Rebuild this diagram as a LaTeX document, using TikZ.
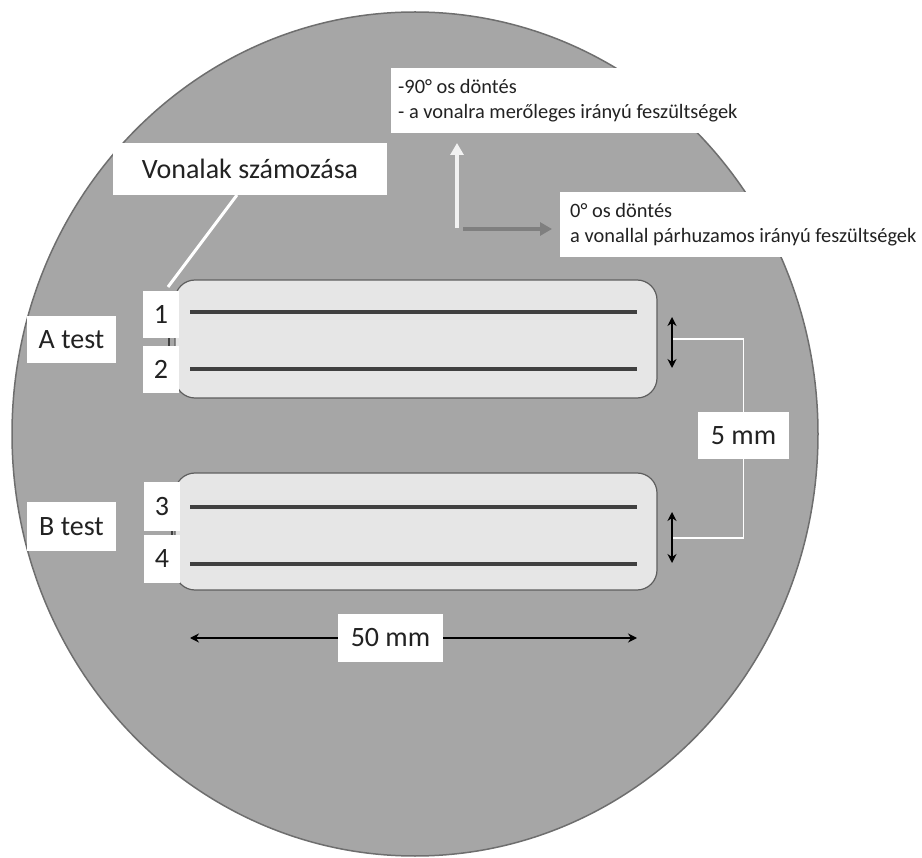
\documentclass[tikz,border=0pt]{standalone}
\usepackage{fontspec}
\setmainfont{Carlito}
\usetikzlibrary{arrows.meta}
\definecolor{disk}{HTML}{A6A6A6}
\definecolor{diskedge}{HTML}{6E6E6E}
\definecolor{strip}{HTML}{E6E6E6}
\definecolor{stripedge}{HTML}{5E5E5E}
\definecolor{lineclr}{HTML}{404040}
\definecolor{txt}{HTML}{222222}
\definecolor{uparrow}{HTML}{F2F2F2}
\definecolor{rtarrow}{HTML}{7F7F7F}
\tikzset{
  lbl/.style={fill=white, inner sep=0pt, text=txt, font=\fontsize{28}{33}\selectfont},
  note/.style={fill=white, inner sep=0pt, text=txt, align=flush left, anchor=north west,
     font=\fontsize{20.4}{24.5}\selectfont},
  stripbox/.style={fill=strip, draw=stripedge, line width=1.2pt, rounded corners=20pt},
  testline/.style={draw=lineclr, line width=3.2pt},
  dimarrow/.style={draw=black, line width=2.6pt, {Stealth[length=9pt,width=9pt]}-{Stealth[length=9pt,width=9pt]}},
  dimarrowR/.style={draw=black, line width=2.6pt, -{Stealth[length=9pt,width=9pt]}},
  dimarrowL/.style={draw=black, line width=2.6pt, {Stealth[length=9pt,width=9pt]}-},
  leader/.style={draw=white, line width=1.6pt},
}
\begin{document}
\begin{tikzpicture}[x=1pt,y=-1pt]
\useasboundingbox (0,0) rectangle (922,858);
% disk
\fill[disk, draw=diskedge, line width=1.5pt] (415,434) ellipse [x radius=403, y radius=422];

% strips
\draw[stripbox] (175,280) rectangle (657,398);
\draw[stripbox] (175,473) rectangle (657,590);

% test lines
\coordinate (l1a) at (190,312); \coordinate (l1b) at (637,312);
\coordinate (l2a) at (190,369); \coordinate (l2b) at (637,369);
\coordinate (l3a) at (190,507); \coordinate (l3b) at (637,507);
\coordinate (l4a) at (190,564); \coordinate (l4b) at (637,564);
\draw[testline] (l1a) -- (l1b);
\draw[testline] (l2a) -- (l2b);
\draw[testline] (l3a) -- (l3b);
\draw[testline] (l4a) -- (l4b);

% small ticks between number boxes
\coordinate (t1a) at (169,336); \coordinate (t1b) at (169,348);
\draw[draw=lineclr, line width=1.6pt] (t1a) -- (t1b);
\coordinate (t2a) at (172,529); \coordinate (t2b) at (172,537);
\draw[draw=lineclr, line width=1.6pt] (t2a) -- (t2b);

% number boxes
\node[lbl, minimum width=36pt, minimum height=47pt] (n1) at (161,314.5) {1};
\node[lbl, minimum width=36pt, minimum height=47pt] (n2) at (161,369.5) {2};
\node[lbl, minimum width=36pt, minimum height=49pt] (n3) at (162,506.5) {3};
\node[lbl, minimum width=36pt, minimum height=48pt] (n4) at (162,559) {4};

% test labels
\node[lbl, minimum width=89pt, minimum height=47pt] (ta) at (71.5,339.5) {A test};
\node[lbl, minimum width=89pt, minimum height=49pt] (tb) at (71.5,526.5) {B test};

% numbering label and leader
\node[lbl, minimum width=274pt, minimum height=52pt] (vs) at (250,169) {Vonalak számozása};
\coordinate (vsf) at (237,195);
\coordinate (n1c) at (168,287);
\draw[draw=white, line width=3pt] (vsf) -- (n1c);

% orientation notes
\node[note, minimum width=361pt, minimum height=65pt, inner xsep=7pt, text width=347pt] (n90) at (391,68)
  {-90° os döntés\\- a vonalra merőleges irányú feszültségek};
\node[note, minimum width=362pt, minimum height=65pt, inner xsep=10pt, text width=352pt] (n0) at (560,192)
  {0° os döntés\\a vonallal párhuzamos irányú feszültségek};

% orientation arrows
\coordinate (ua) at (457,228); \coordinate (ub) at (457,143);
\draw[draw=uparrow, line width=4pt, -{Triangle[length=12pt,width=13pt]}] (ua) -- (ub);
\coordinate (ra) at (463,229); \coordinate (rb) at (552,229);
\draw[draw=rtarrow, line width=4pt, -{Triangle[length=12pt,width=13pt]}] (ra) -- (rb);

% 5 mm dimension
\coordinate (d1a) at (672,317); \coordinate (d1b) at (672,368);
\coordinate (d2a) at (672,512); \coordinate (d2b) at (672,563);
\node[lbl, minimum width=91pt, minimum height=47pt] (mm5) at (743.5,435.5) {5 mm};
\coordinate (c1) at (672,339);
\coordinate (c2) at (672,538);
\draw[leader] (c1) -| (mm5.north);
\draw[leader] (mm5.south) |- (c2);
\draw[dimarrow] (d1a) -- (d1b);
\draw[dimarrow] (d2a) -- (d2b);

% 50 mm dimension
\node[lbl, minimum width=105pt, minimum height=48pt] (mm50) at (390.5,638) {50 mm};
\coordinate (w1) at (190,638);
\coordinate (w2) at (637,638);
\draw[dimarrowL] (w1) -- (mm50.west);
\draw[dimarrowR] (mm50.east) -- (w2);
\end{tikzpicture}
\end{document}
